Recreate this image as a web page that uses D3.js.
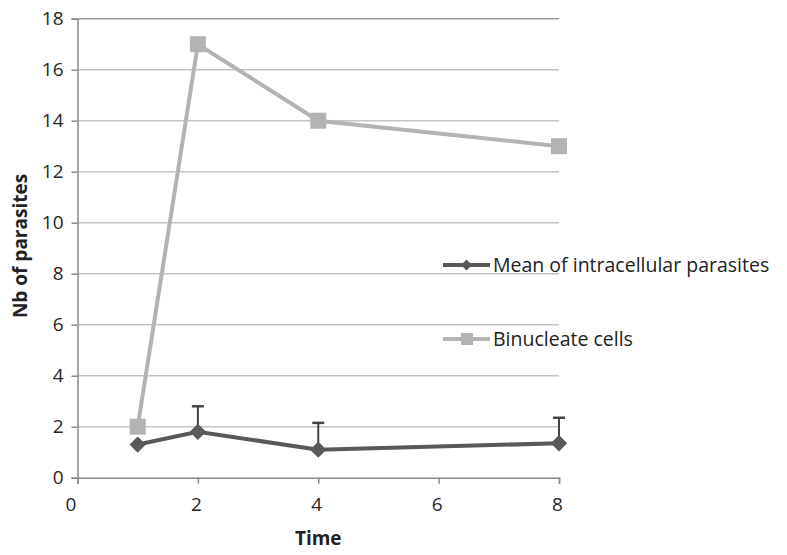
<!DOCTYPE html>
<html>
<head>
<meta charset="utf-8">
<script src="https://cdn.jsdelivr.net/npm/d3@7"></script>
<style>
  body { margin: 0; background: #fff; }
  svg text { font-family: "Open Sans", "Liberation Sans", sans-serif; }
</style>
</head>
<body>
<div id="chart"></div>
<script>
// values
var times = [1, 2, 4, 8];
var meanParasites = [1.3, 1.8, 1.1, 1.35];
var meanErrors = [0, 1.0, 1.05, 1.0];
var binucleate = [2, 17, 14, 13];
var xTicks = [0, 2, 4, 6, 8];
var yTicks = [0, 2, 4, 6, 8, 10, 12, 14, 16, 18];
var seriesNames = ["Mean of intracellular parasites", "Binucleate cells"];

var width = 787,
  height = 555;

var x = d3.scaleLinear().domain([0, 8]).range([77.5, 559]);
var y = d3.scaleLinear().domain([0, 18]).range([477.7, 18.7]);

var svg = d3.select("#chart").append("svg")
  .attr("width", width)
  .attr("height", height);

// gridlines
svg.append("g")
  .selectAll("line")
  .data(yTicks.filter(function(d) { return d > 0; }))
  .enter().append("line")
  .attr("x1", x(0))
  .attr("x2", x(8))
  .attr("y1", function(d) { return y(d); })
  .attr("y2", function(d) { return y(d); })
  .style("stroke", function(d) { return d == 18 ? "#9a9a9a" : "#c4c4c4"; })
  .style("stroke-width", 1.5);

// y axis
var yAxis = svg.append("g")
  .attr("transform", "translate(" + x(0) + ",0)")
  .call(d3.axisLeft(y).tickValues(yTicks).tickSize(6).tickPadding(8));

// x axis
var xAxis = svg.append("g")
  .attr("transform", "translate(0," + y(0) + ")")
  .call(d3.axisBottom(x).tickValues(xTicks).tickSize(6).tickPadding(14));

[xAxis, yAxis].forEach(function(ax) {
  ax.select(".domain").style("stroke", "#8a8a8a").style("stroke-width", 1.5);
  ax.selectAll(".tick line").style("stroke", "#8a8a8a").style("stroke-width", 1.5);
  ax.selectAll(".tick text")
    .style("font-size", "19px")
    .style("fill", "#262626");
});

// the labels sit a little left of their ticks, the 0 more so
xAxis.selectAll(".tick text")
  .attr("dx", function(d) { return d == 0 ? -7 : -2; });

// axis titles
svg.append("text")
  .attr("x", x(4))
  .attr("y", 545)
  .attr("text-anchor", "middle")
  .style("font-size", "19px")
  .style("font-weight", "bold")
  .style("fill", "#222")
  .text("Time");

svg.append("text")
  .attr("transform", "translate(27,246) rotate(-90)")
  .attr("text-anchor", "middle")
  .style("font-size", "19px")
  .style("font-weight", "bold")
  .style("fill", "#222")
  .text("Nb of parasites");

var binColor = "#b3b3b3",
  meanColor = "#595959";

// binucleate cells line
var binLine = d3.line()
  .x(function(d, i) { return x(times[i]); })
  .y(function(d) { return y(d); });

svg.append("path")
  .datum(binucleate)
  .attr("d", binLine)
  .style("fill", "none")
  .style("stroke", binColor)
  .style("stroke-width", 4);

svg.append("g")
  .selectAll("rect")
  .data(binucleate)
  .enter().append("rect")
  .attr("x", function(d, i) { return x(times[i]) - 8; })
  .attr("y", function(d) { return y(d) - 8; })
  .attr("width", 16)
  .attr("height", 16)
  .style("fill", binColor);

// error bars (upper only)
var err = svg.append("g");
for (var i = 0; i < times.length; i++) {
  if (meanErrors[i] <= 0) continue;
  var barTop = y(meanParasites[i] + meanErrors[i]);
  err.append("line")
    .attr("x1", x(times[i])).attr("x2", x(times[i]))
    .attr("y1", y(meanParasites[i])).attr("y2", barTop)
    .style("stroke", "#444").style("stroke-width", 2);
  err.append("line")
    .attr("x1", x(times[i]) - 6).attr("x2", x(times[i]) + 6)
    .attr("y1", barTop).attr("y2", barTop)
    .style("stroke", "#444").style("stroke-width", 2.5);
}

// mean line
var meanLine = d3.line()
  .x(function(d, i) { return x(times[i]); })
  .y(function(d) { return y(d); });

svg.append("path")
  .datum(meanParasites)
  .attr("d", meanLine)
  .style("fill", "none")
  .style("stroke", meanColor)
  .style("stroke-width", 4);

var diamond = d3.symbol().type(d3.symbolDiamond2).size(170);

svg.append("g")
  .selectAll("path")
  .data(meanParasites)
  .enter().append("path")
  .attr("d", diamond)
  .attr("transform", function(d, i) {
    return "translate(" + x(times[i]) + "," + y(d) + ")";
  })
  .style("fill", meanColor);

// legend
var legend = svg.append("g");
var legendY = [265, 339];
var legendColors = [meanColor, binColor];

legend.selectAll("line")
  .data(seriesNames)
  .enter().append("line")
  .attr("x1", 443).attr("x2", 490)
  .attr("y1", function(d, i) { return legendY[i]; })
  .attr("y2", function(d, i) { return legendY[i]; })
  .style("stroke", function(d, i) { return legendColors[i]; })
  .style("stroke-width", 4);

legend.append("path")
  .attr("d", d3.symbol().type(d3.symbolDiamond2).size(80))
  .attr("transform", "translate(466.5," + legendY[0] + ")")
  .style("fill", meanColor);

legend.append("rect")
  .attr("x", 461).attr("y", legendY[1] - 6)
  .attr("width", 12).attr("height", 12)
  .style("fill", binColor);

legend.selectAll("text")
  .data(seriesNames)
  .enter().append("text")
  .attr("x", 493)
  .attr("y", function(d, i) { return legendY[i]; })
  .attr("dy", "0.35em")
  .style("font-size", "19.5px")
  .style("fill", "#222")
  .text(function(d) { return d; });
</script>
</body>
</html>
